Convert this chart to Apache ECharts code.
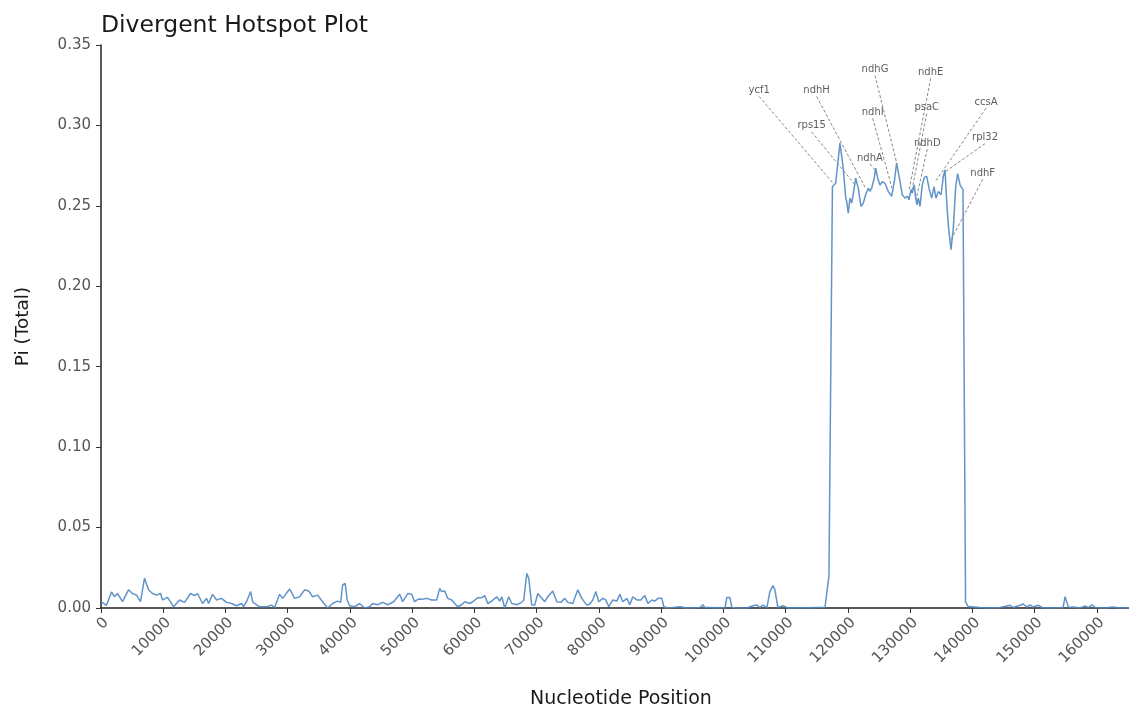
<!DOCTYPE html>
<html>
<head>
<meta charset="utf-8">
<title>Divergent Hotspot Plot</title>
<script src="https://cdn.jsdelivr.net/npm/echarts@6/dist/echarts.min.js"></script>
<style>
  html, body { margin: 0; padding: 0; background: #ffffff; }
  #chart { width: 1129px; height: 704px; }
</style>
</head>
<body>
<div id="chart"></div>
<script>
// Sliding-window nucleotide diversity along the genome
const positions = [
  0, 240, 880, 1690, 2170, 2650, 3460, 4420, 5060, 5710, 6350, 6990, 7640, 8280, 8920, 9570, 9890,
  10690, 11660, 12620, 13420, 14390, 15030, 15510, 16320, 16960, 17280, 17930, 18570, 19370,
  20180, 20980, 21780, 22590, 22910, 23390, 24040, 24360, 25000, 25480, 26610, 27410, 27890,
  28700, 29180, 30310, 31110, 31910, 32720, 33360, 34000, 34810, 35610, 36410, 37220, 38020,
  38500, 38830, 39230, 39550, 39950, 40760, 41560, 42360, 43170, 43650, 44450, 45260, 46060,
  46380, 47030, 47990, 48470, 49280, 49920, 50400, 51040, 51690, 52330, 53130, 53940, 54420,
  54740, 55220, 55710, 56350, 56830, 57310, 57960, 58440, 59240, 59730, 60530, 61170, 61660,
  62140, 62780, 63580, 64070, 64390, 64870, 65510, 66000, 66800, 67600, 67930, 68410, 68730,
  69210, 69690, 70180, 70820, 71300, 71780, 72590, 73230, 73870, 74520, 75000, 75800, 76610,
  77250, 78050, 78540, 79020, 79500, 79980, 80630, 81110, 81590, 82230, 82880, 83360, 83840,
  84490, 84970, 85450, 86090, 86740, 87380, 87860, 88500, 88990, 89470, 90110, 90430, 91080,
  91880, 93010, 94130, 95100, 96220, 96700, 97020, 97830, 98630, 99440, 100240, 100560, 101040,
  101370, 102170, 103780, 104740, 105390, 105870, 106350, 106990, 107470, 107960, 108280,
  108760, 109570, 110370, 111820, 113420, 115030, 116320, 116640, 116960, 117520, 118040,
  118730, 119260, 119650, 119810, 120060, 120340, 120610, 120870, 121250, 121670, 122110,
  122480, 122860, 123280, 123550, 123830, 124240, 124470, 124790, 125160, 125530, 125960,
  126490, 127040, 127460, 127840, 128100, 128380, 128740, 129180, 129610, 129820, 130140,
  130350, 130670, 130900, 131110, 131320, 131590, 131960, 132280, 132670, 133040, 133470,
  133840, 134160, 134530, 134970, 135340, 135610, 135880, 136140, 136570, 136940, 137330,
  137650, 138020, 138290, 138500, 138910, 139310, 139630, 141240, 142840, 144450, 146060,
  146540, 147670, 148150, 148790, 149280, 149760, 150560, 151200, 152490, 154580, 154900,
  155220, 155470, 156190, 157310, 158120, 158600, 159240, 159730, 161330, 162460, 163740, 165190
];
const piValues = [
  0.004, 0.005, 0.0017, 0.010, 0.007, 0.009, 0.004, 0.0113, 0.009, 0.008, 0.004, 0.0185, 0.0113, 0.009, 0.008, 0.009, 0.005,
  0.0066, 0.0008, 0.005, 0.0035, 0.009, 0.0077, 0.009, 0.0028, 0.006, 0.0028, 0.0085, 0.005, 0.006,
  0.0035, 0.0028, 0.0014, 0.0028, 0.0008, 0.0039, 0.0102, 0.0039, 0.002, 0.0008, 0.0008, 0.0018, 0.0003,
  0.0085, 0.006, 0.0118, 0.006, 0.007, 0.0113, 0.0106, 0.007, 0.008, 0.0039, 0.0, 0.0028, 0.0043,
  0.0035, 0.0143, 0.0153, 0.005, 0.0014, 0.0008, 0.0028, 0.0, 0.0008, 0.0028, 0.002, 0.0035, 0.002,
  0.0008, 0.0039, 0.0085, 0.0039, 0.009, 0.0085, 0.0039, 0.0056, 0.0055, 0.006, 0.005, 0.005, 0.0122,
  0.0102, 0.0106, 0.006, 0.005, 0.0028, 0.0008, 0.002, 0.0039, 0.0028, 0.0039, 0.0064, 0.0064, 0.0077,
  0.0028, 0.0043, 0.007, 0.0043, 0.007, 0.0, 0.007, 0.0028, 0.002, 0.0035, 0.005, 0.0215, 0.0185,
  0.0018, 0.0018, 0.009, 0.006, 0.0039, 0.007, 0.0106, 0.0039, 0.0035, 0.006, 0.0035, 0.0028, 0.0113,
  0.006, 0.0018, 0.0025, 0.005, 0.0102, 0.0039, 0.006, 0.005, 0.0008, 0.005, 0.0043, 0.0085, 0.0039,
  0.006, 0.002, 0.007, 0.005, 0.005, 0.0077, 0.0028, 0.005, 0.0043, 0.006, 0.006, 0.0008, 0.0,
  0.0003, 0.0008, 0.0, 0.0002, 0.0003, 0.002, 0.0003, 0.0003, 0.0, 0.0003, 0.0, 0.0066, 0.0066,
  0.0003, 0.0, 0.0, 0.0014, 0.0018, 0.0003, 0.0018, 0.0003, 0.0102, 0.014, 0.0113,
  0.0003, 0.0014, 0.0, 0.0002, 0.0002, 0.0003, 0.0003, 0.0008, 0.020, 0.262, 0.264,
  0.289, 0.2735, 0.255, 0.2527, 0.2455, 0.2548, 0.2517, 0.2573, 0.2673, 0.261, 0.2496,
  0.2517, 0.2569, 0.261, 0.259, 0.261, 0.2673, 0.2735, 0.2673, 0.263, 0.265, 0.264,
  0.259, 0.256, 0.265, 0.2766, 0.2776, 0.265, 0.2569, 0.2548, 0.256, 0.2538, 0.260,
  0.2579, 0.263, 0.2548, 0.2507, 0.2548, 0.2496, 0.263, 0.2677, 0.2683, 0.261, 0.2548,
  0.262, 0.2548, 0.259, 0.2569, 0.2683, 0.2724, 0.2527, 0.238, 0.2227, 0.236, 0.262,
  0.270, 0.263, 0.262, 0.260, 0.004, 0.001, 0.001, 0.0003, 0.0, 0.0003, 0.0017,
  0.0003, 0.0017, 0.0025, 0.0006, 0.002, 0.0006, 0.0017, 0.0003, 0.0, 0.0003, 0.0070,
  0.0066, 0.0003, 0.0006, 0.0, 0.0013, 0.0003, 0.002, 0.0003, 0.0, 0.0006, 0.0, 0.0002
];

// Annotated hotspot genes: the window each label points at
const geneNames = ['ycf1', 'rps15', 'ndhH', 'ndhA', 'ndhI', 'ndhG', 'ndhE', 'psaC', 'ndhD', 'ccsA', 'rpl32', 'ndhF'];
const genePositions = [117600, 121300, 122750, 124520, 127090, 127890, 129820, 130300, 130950, 134000, 135610, 136570];
const genePi = [0.2642, 0.2624, 0.2617, 0.2717, 0.2611, 0.276, 0.2593, 0.2599, 0.2537, 0.2648, 0.2711, 0.2288];
// where each gene label sits (position, Pi), spread apart so they do not overlap
const labelPositions = [105750, 114180, 114980, 123550, 123990, 124360, 133310, 132670, 132760, 142200, 142040, 141670];
const labelPi = [0.318, 0.296, 0.318, 0.276, 0.3045, 0.331, 0.3293, 0.3073, 0.2852, 0.3107, 0.2887, 0.2666];

const yTicks = [0, 0.05, 0.10, 0.15, 0.20, 0.25, 0.30, 0.35];

const FONT = 'DejaVu Sans';
const seriesData = positions.map((p, i) => [p, piValues[i]]);
const connectorData = geneNames.map((g, i) => ({
  coords: [[labelPositions[i], labelPi[i]], [genePositions[i], genePi[i]]]
}));
const labelData = geneNames.map((g, i) => ({ name: g, value: [labelPositions[i], labelPi[i]] }));

const chart = echarts.init(document.getElementById('chart'), null, { renderer: 'canvas' });
chart.setOption({
  animation: false,
  backgroundColor: '#ffffff',
  title: {
    text: 'Divergent Hotspot Plot',
    left: 96,
    top: 9,
    textStyle: { fontFamily: FONT, fontSize: 23.5, fontWeight: 'normal', color: '#1a1a1a' }
  },
  // the axes box runs slightly past the right edge of the page
  grid: { left: 101, right: -12, top: 45, bottom: 96, containLabel: false, outerBoundsMode: 'none' },
  xAxis: {
    type: 'value',
    min: 0,
    max: 167100,
    interval: 10000,
    name: 'Nucleotide Position',
    nameLocation: 'middle',
    nameGap: 82,
    nameTextStyle: { fontFamily: FONT, fontSize: 19, color: '#1a1a1a' },
    axisLine: { show: true, onZero: false, lineStyle: { color: '#222', width: 1.5 } },
    axisTick: { show: true, length: 5, lineStyle: { color: '#333', width: 1 } },
    axisLabel: {
      rotate: 45,
      fontFamily: FONT,
      fontSize: 15,
      color: '#555',
      margin: 7,
      verticalAlign: 'top',
      showMaxLabel: false,
      formatter: v => String(v)
    },
    splitLine: { show: false }
  },
  yAxis: {
    type: 'value',
    min: 0,
    max: 0.35,
    interval: 0.05,
    name: 'Pi (Total)',
    nameLocation: 'middle',
    nameGap: 68,
    nameTextStyle: { fontFamily: FONT, fontSize: 18.5, color: '#1a1a1a' },
    axisLine: { show: true, lineStyle: { color: '#222', width: 1.5 } },
    axisTick: { show: true, length: 5, lineStyle: { color: '#333', width: 1 } },
    axisLabel: {
      fontFamily: FONT,
      fontSize: 15,
      color: '#555',
      margin: 10,
      formatter: v => (yTicks.some(t => Math.abs(t - v) < 1e-9) ? v.toFixed(2) : '')
    },
    splitLine: { show: false }
  },
  series: [
    {
      type: 'line',
      data: seriesData,
      showSymbol: false,
      symbol: 'none',
      lineStyle: { color: '#5088c2', width: 1.5, opacity: 0.9 },
      z: 3
    },
    {
      type: 'lines',
      coordinateSystem: 'cartesian2d',
      data: connectorData,
      symbol: 'none',
      lineStyle: { color: '#888888', width: 1, type: [3, 2], opacity: 1 },
      silent: true,
      z: 4
    },
    {
      type: 'scatter',
      data: labelData,
      symbolSize: 0,
      silent: true,
      label: {
        show: true,
        position: 'top',
        distance: 1,
        formatter: p => p.name,
        fontFamily: FONT,
        fontSize: 10,
        color: '#333'
      },
      z: 5
    }
  ]
});
</script>
</body>
</html>
